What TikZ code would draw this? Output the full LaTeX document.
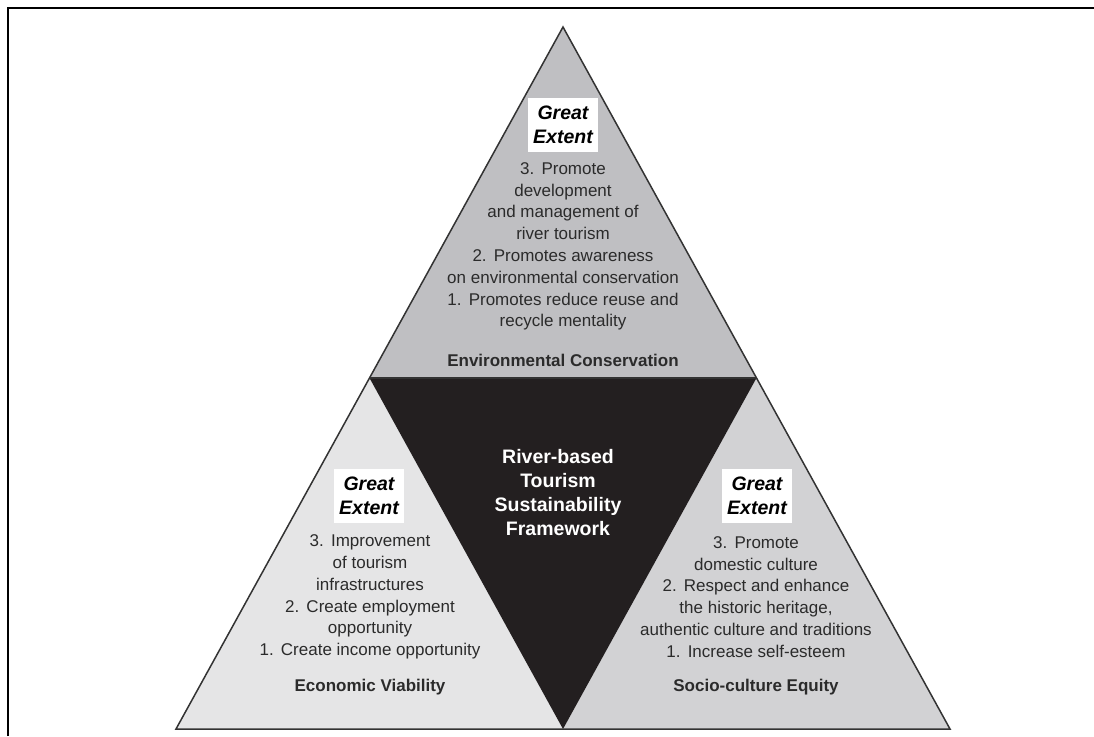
\documentclass[tikz,border=0pt]{standalone}
\usepackage{fontspec}
\setmainfont{Liberation Sans}
\definecolor{toptri}{HTML}{BFBFC2}
\definecolor{lefttri}{HTML}{E5E5E6}
\definecolor{righttri}{HTML}{D2D2D4}
\definecolor{coretri}{HTML}{231F20}
\definecolor{textgray}{HTML}{2B2B2B}
\definecolor{edge}{HTML}{333333}
\newcommand{\numsp}{\hspace{0.42em}}
\begin{document}
\begin{tikzpicture}[x=1pt,y=-1pt,
  txt/.style={align=center, text=textgray, font=\fontsize{17}{21.8}\selectfont, inner sep=0pt},
  lbl/.style={text=textgray, font=\fontsize{17}{20}\selectfont\bfseries, inner sep=0pt},
  extent/.style={fill=white, minimum width=70pt, minimum height=54pt, inner sep=0pt,
    align=center, text=black, font=\fontsize{19.5}{23.5}\selectfont\bfseries\itshape},
  core/.style={align=center, text=white, font=\fontsize{19.5}{24}\selectfont\bfseries, inner sep=0pt}]
\useasboundingbox (0,0) rectangle (1094,736);

% open frame
\draw[line width=2.4pt] (7.8,736) -- (7.8,7.8) -- (1094,7.8);

% corners of the pyramid and the midpoints of its sides
\coordinate (A) at (563,27);
\coordinate (B) at (176,729);
\coordinate (C) at (950,729);
\coordinate (AB) at (369.5,378);
\coordinate (AC) at (756.5,378);
\coordinate (BC) at (563,729);

% the four triangles
\fill[toptri] (A) -- (AB) -- (AC) -- cycle;
\fill[lefttri] (AB) -- (B) -- (BC) -- cycle;
\fill[righttri] (AC) -- (BC) -- (C) -- cycle;
\fill[coretri] (AB) -- (AC) -- (BC) -- cycle;
\draw[edge, line width=1.5pt, line join=miter] (A) -- (B) -- (C) -- cycle;
\draw[edge, line width=1.2pt] (AB) -- (AC);

% top: environmental conservation
\node[extent] (ext1) at (563,125) {Great\\Extent};
\node[txt] (env) at (563,246.5) {3.\numsp Promote\\development\\and management of\\river tourism\\2.\numsp Promotes awareness\\on environmental conservation\\1.\numsp Promotes reduce reuse and\\recycle mentality};
\node[lbl] (envlbl) at (563,360) {Environmental Conservation};

% left: economic viability
\node[extent] (ext2) at (369,496) {Great\\Extent};
\node[txt] (eco) at (370,597) {3.\numsp Improvement\\of tourism\\infrastructures\\2.\numsp Create employment\\opportunity\\1.\numsp Create income opportunity};
\node[lbl] (ecolbl) at (370,687) {Economic Viability};

% right: socio-culture equity
\node[extent] (ext3) at (757,496) {Great\\Extent};
\node[txt] (soc) at (756,597) {3.\numsp Promote\\domestic culture\\2.\numsp Respect and enhance\\the historic heritage,\\authentic culture and traditions\\1.\numsp Increase self-esteem};
\node[lbl] (soclbl) at (756,687) {Socio-culture Equity};

% centre
\node[core] (core) at (558,493) {River-based\\Tourism\\Sustainability\\Framework};
\end{tikzpicture}
\end{document}
